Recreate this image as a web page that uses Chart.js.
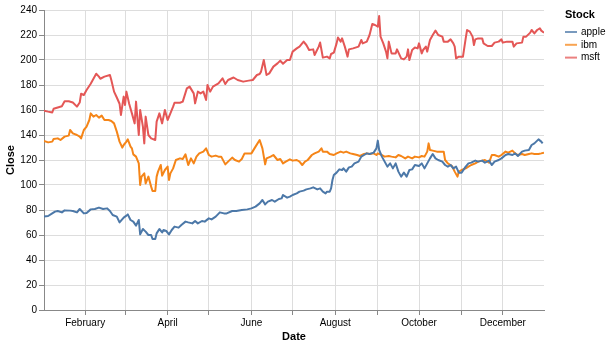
<!DOCTYPE html>
<html>
<head>
<meta charset="utf-8">
<script src="https://cdn.jsdelivr.net/npm/chart.js@4.4.0/dist/chart.umd.min.js"></script>
<style>
  html, body { margin: 0; padding: 0; background: #fff; }
  #wrap { width: 610px; height: 347px; }
</style>
</head>
<body>
<div id="wrap"><canvas id="chart" width="610" height="347"></canvas></div>
<script>
// day of year (Jan 1 = 0, leap year) and closing prices
const msftDays = [1,4,7,8,11,14,16,19,22,25,27,28,30,32,35,37,39,41,42,45,49,50,52,54,56,57,59,60,61,63,65,67,68,70,71,73,74,75,77,79,82,83,85,87,89,91,93,95,96,100,102,105,107,110,111,113,115,117,119,120,122,124,128,131,133,135,139,142,146,150,153,156,158,159,161,163,165,168,171,173,175,178,
  180,182,185,187,190,192,194,197,198,201,202,203,204,207,209,210,212,214,215,217,218,220,222,223,226,230,232,233,236,238,240,242,244,245,246,248,250,251,252,254,257,258,261,263,265,266,267,269,271,273,274,276,277,279,280,282,284,286,288,291,292,295,297,299,300,301,303,306,308,309,311,313,314,315,317,320,321,324,327,329,332,334,335,338,342,343,345,349,350,352,355,356,358,360,362,363,365];
const msftClose = [159.5,158.7,158,161,162,163,167,167,166,162.7,166,173,172,176,181,185,189,186.7,185,186.7,188,184,174.7,170,165,156,170.7,164,174.7,165,157.3,149.3,166.7,140,160,146.7,133.3,154.7,140,137.3,136,150.7,157.3,149.3,160,152,157.3,162.7,165.8,165.8,166.7,177.3,178.7,173.3,165.3,174.7,173.3,174.7,168,180,174.7,178.7,181.3,185.3,180.8,184,186,184,182.7,183.5,184,188,188.8,190.7,200,188,189.3,194.7,197.3,199.5,197,200,
  200,206.7,209.3,210.7,214.7,212,208,208.5,204,210.7,214,208,201.9,202.7,201.3,204.8,205.9,213.3,218,214.7,217.3,210.7,202.7,208.5,209.3,210.7,216,213.3,214.7,220,228.8,228,226.7,235.2,218.7,213.3,206.7,201.3,214.7,205.3,205.3,208.5,201.3,200.5,202.7,208.5,200,208,210,209.3,213.3,205.3,208,210.7,206.7,216,220,223.5,220,218.7,214.7,214.7,216.5,213.3,210.7,201.3,202.7,202.7,217.3,224,222.7,218.7,212,216.5,217.3,217.3,213.3,211.2,211.2,213.9,214.7,216.5,213.9,214.7,214.7,210.7,213.3,213.9,218.7,218.7,221.9,224,221.3,224,225.3,223.5,221.9];

const ibmDays = [1,4,7,8,11,13,16,19,20,22,25,27,28,30,32,34,35,37,39,41,43,45,48,50,52,54,56,58,59,61,62,64,65,66,68,70,71,72,74,75,77,79,80,82,83,84,86,87,89,91,92,93,95,97,100,102,104,106,108,110,112,114,117,119,121,123,126,128,130,133,135,138,140,143,145,147,149,152,155,158,160,162,163,166,168,171,173,175,177,
  180,182,185,187,189,191,193,196,198,201,203,204,207,209,212,214,217,219,221,224,226,229,231,234,236,238,241,243,244,247,249,252,254,257,259,261,264,266,269,271,274,276,278,280,281,282,284,287,289,292,293,295,298,300,302,303,305,308,310,312,315,317,320,322,325,327,329,332,334,337,339,342,344,346,349,351,354,356,358,361,363,365];
const ibmClose = [135.2,134.1,134.7,136.8,137.3,136,138.7,139.5,144,141.3,140,138.7,137.3,144,146.7,152,157.3,154.7,156,153.9,155.5,152,152,151.2,149.3,142.7,134.7,129.9,132,134.7,136.5,130.7,129.3,124.5,122.7,117.3,100,106.7,109.3,101.3,106.7,98.7,95.2,95.2,106.7,110.7,116,107.5,112,114.7,104,109.3,113.3,120,121.3,120.8,124.5,116,121.3,117.3,122.7,125.3,126.7,129.3,124,122.7,123.5,122.7,122.7,116.5,118.7,121.9,120,118.7,120.8,125.3,125.3,125.3,130.7,136,129.3,116.5,121.3,122.7,124,120,120.8,117.3,118.7,
  120.5,119.5,120,118.7,116,118.7,120,124,125.3,126.7,129.3,126.7,126.7,124.8,124,125.3,126.7,125.9,126.7,125.3,124.8,124,123.2,124.8,125.3,124.8,125.3,124,125.3,124,122.7,123.2,122.7,122.1,124,123.2,121.3,122.7,121.3,122.7,122.1,123.2,122.7,126.7,133.3,128,127.5,126.7,126.7,126.7,120,117.3,115.2,110.7,106.7,110.7,112,113.3,114.7,116,117.3,118.7,119.5,120,117.9,124,124,122.7,124,126.7,125.9,127.5,125.3,124,124.8,124,124.8,125.3,124.8,124.8,125.3,125.9];

const appleDays = [1,4,7,9,11,14,16,20,22,25,27,30,32,35,38,41,44,47,49,51,54,56,59,61,62,64,66,68,70,71,73,75,77,79,80,82,83,85,87,88,90,92,94,96,99,101,104,106,109,111,113,116,118,121,123,126,129,132,134,138,141,145,149,152,155,158,160,162,164,167,169,172,174,175,178,
  180,182,185,187,190,192,195,197,200,202,204,206,207,209,210,211,212,214,216,218,219,221,223,225,227,230,232,234,236,238,241,243,244,245,247,249,251,253,255,257,259,261,263,265,267,269,271,274,276,278,280,282,284,286,288,291,293,295,297,299,301,303,305,308,310,312,315,317,320,322,325,327,329,332,334,337,339,342,344,346,349,351,354,356,358,361,363,364];
const appleClose = [74.7,75.2,77.3,78.7,79.2,78.1,79.7,79.5,79.2,78.1,80.8,77.3,77.6,80.5,80.8,81.9,80.8,81.3,79.2,76,74.7,70.1,73.9,75.5,76.5,72,70.7,67.5,72,60.5,64.8,62.7,60,60,56.8,56.8,61.3,64.8,62.1,64,63.2,60.5,64,66.7,65.9,68,70.7,70.1,69.3,71.2,69.3,71.2,70.7,73.3,72.5,74.7,78.1,77.3,77.3,79.2,79.2,80,80.5,81.3,82.7,85.3,88,84.5,86.7,88,86.7,88.8,89.3,92,89.9,
  90.7,92,93.3,94.7,95.5,96.5,97.3,98.1,96.5,97.3,94.7,93.3,94.7,94.7,97.3,104,108,109.9,112.5,112,113.3,110.7,114.1,114.7,117.3,118.7,122.7,124,125.3,124.8,125.9,129.3,135.5,128,122.7,118.7,114.7,117.3,113.3,117.3,110.7,106.7,109.9,106.7,112,112.5,116,115.2,117.3,113.3,117.3,121.3,124.8,121.3,120,118.7,116,114.7,116,113.3,114.7,109.9,109.9,114.7,117.3,117.9,119.5,118.7,119.5,117.9,119.5,116,118.7,120,121.3,124,124.8,124,125.3,123.2,126.7,127.5,128,132,133.3,136.5,134.7,133.3];

const monthStarts = [31, 60, 91, 121, 152, 182, 213, 244, 274, 305, 335];
const monthNames = ['February', 'March', 'April', 'May', 'June', 'July', 'August', 'September', 'October', 'November', 'December'];
const yTicks = [0, 20, 40, 60, 80, 100, 120, 140, 160, 180, 200, 220, 240];

const seriesNames = ['apple', 'ibm', 'msft'];
const seriesColors = ['#4c78a8', '#f58518', '#e45756'];

Chart.defaults.font.family = '"Liberation Sans", Arial, sans-serif';
Chart.defaults.color = '#000';

function toPoints(days, vals) {
  return days.map((d, i) => ({ x: d, y: vals[i] }));
}

// legend drawn by hand, vega style
const stockLegend = {
  id: 'stockLegend',
  afterDraw(chart) {
    const ctx = chart.ctx;
    ctx.save();
    ctx.textBaseline = 'middle';
    ctx.textAlign = 'left';
    ctx.fillStyle = '#000';
    ctx.font = 'bold 11px "Liberation Sans", Arial, sans-serif';
    ctx.fillText('Stock', 565, 15);
    ctx.font = '10px "Liberation Sans", Arial, sans-serif';
    seriesNames.forEach((name, i) => {
      const y = 32 + i * 12.8;
      ctx.strokeStyle = seriesColors[i];
      ctx.globalAlpha = 0.75;
      ctx.lineWidth = 2;
      ctx.beginPath();
      ctx.moveTo(565, y);
      ctx.lineTo(577, y);
      ctx.stroke();
      ctx.globalAlpha = 1;
      ctx.fillStyle = '#000';
      ctx.fillText(name, 581, y);
    });
    ctx.restore();
  }
};

const chart = new Chart(document.getElementById('chart'), {
  type: 'line',
  data: {
    datasets: [
      { label: 'apple', data: toPoints(appleDays, appleClose), borderColor: seriesColors[0] },
      { label: 'ibm', data: toPoints(ibmDays, ibmClose), borderColor: seriesColors[1] },
      { label: 'msft', data: toPoints(msftDays, msftClose), borderColor: seriesColors[2] },
    ],
  },
  options: {
    responsive: false,
    animation: false,
    layout: { padding: { top: 10, right: 66, left: 0, bottom: 0 } },
    elements: {
      point: { radius: 0 },
      line: { borderWidth: 2, tension: 0, borderJoinStyle: 'round', fill: false },
    },
    plugins: {
      legend: { display: false },
      tooltip: { enabled: false },
    },
    scales: {
      x: {
        type: 'linear',
        min: 1,
        max: 365,
        afterBuildTicks: (scale) => {
          scale.ticks = monthStarts.map((v) => ({ value: v }));
        },
        afterFit: (scale) => { scale.height = 37; },
        ticks: {
          autoSkip: false,
          maxRotation: 0,
          padding: 2,
          font: { size: 10 },
          callback: (value) => {
            const i = monthStarts.indexOf(value);
            return i % 2 === 0 ? monthNames[i] : '';
          },
        },
        grid: { color: '#ddd', tickColor: '#888', tickLength: 5 },
        border: { color: '#888' },
        title: { display: true, text: 'Date', font: { size: 11, weight: 'bold' }, padding: { top: 0, bottom: 3 } },
      },
      y: {
        min: 0,
        max: 240,
        afterBuildTicks: (scale) => {
          scale.ticks = yTicks.map((v) => ({ value: v }));
        },
        afterFit: (scale) => { scale.width = 44; },
        ticks: { padding: 2, font: { size: 10 } },
        grid: { color: '#ddd', tickColor: '#888', tickLength: 5 },
        border: { color: '#888' },
        title: { display: true, text: 'Close', font: { size: 11, weight: 'bold' }, padding: { top: 4, bottom: 0 } },
      },
    },
  },
  plugins: [stockLegend],
});
</script>
</body>
</html>
